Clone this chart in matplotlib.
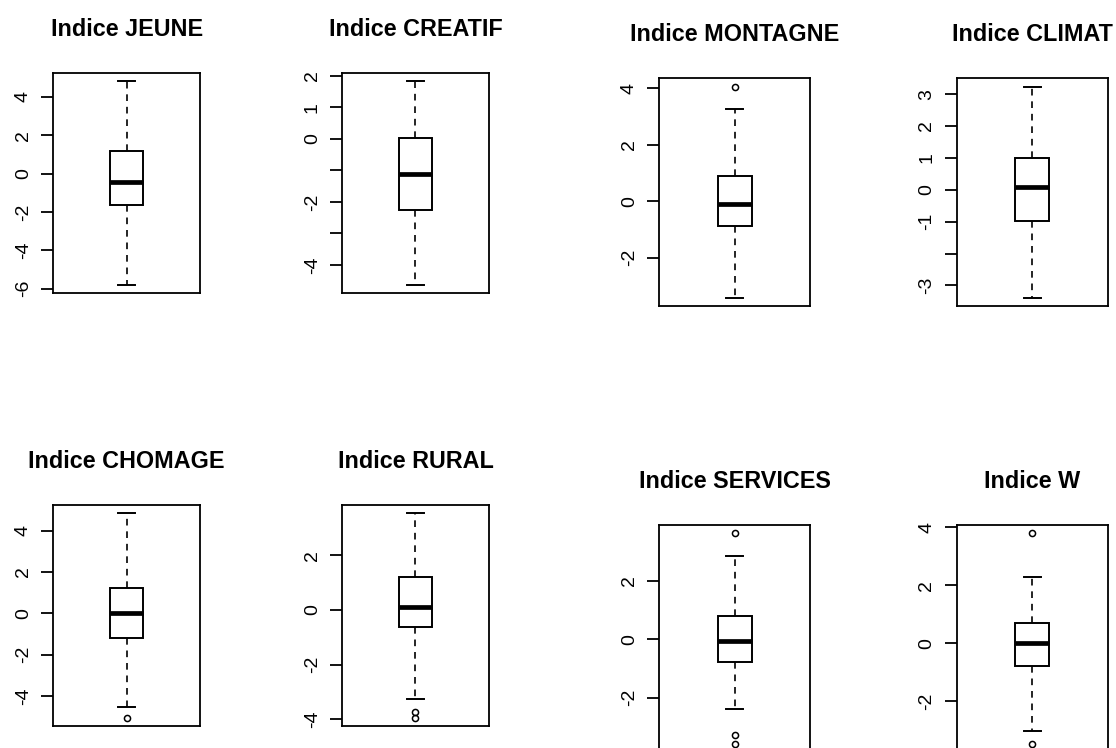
import matplotlib
matplotlib.use("Agg")
import matplotlib.pyplot as plt

plt.rcParams['font.family'] = ['Liberation Sans', 'DejaVu Sans']

# ---- data ----
titles = ["Indice JEUNE", "Indice CREATIF", "Indice MONTAGNE", "Indice CLIMAT",
          "Indice CHOMAGE", "Indice RURAL", "Indice SERVICES", "Indice W"]
medians = [-0.45, -1.10, -0.09, 0.10, 0.00, 0.12, -0.05, 0.00]
q1 = [-1.66, -2.27, -0.88, -0.97, -1.17, -0.63, -0.80, -0.77]
q3 = [1.18, 0.04, 0.90, 0.98, 1.24, 1.21, 0.78, 0.71]
whisker_low = [-5.82, -4.64, -3.41, -3.38, -4.52, -3.25, -2.38, -3.01]
whisker_high = [4.80, 1.82, 3.26, 3.23, 4.83, 3.53, 2.86, 2.30]
outliers = [[], [], [4.06], [], [-5.07], [-3.72, -3.96],
            [3.63, -3.28, -3.59], [3.80, -3.47]]
ytick_values = [[-6, -4, -2, 0, 2, 4],
                [-4, -3, -2, -1, 0, 1, 2],
                [-2, 0, 2, 4],
                [-3, -2, -1, 0, 1, 2, 3],
                [-4, -2, 0, 2, 4],
                [-4, -2, 0, 2],
                [-2, 0, 2],
                [-2, 0, 2, 4]]
ytick_labels = [["-6", "-4", "-2", "0", "2", "4"],
                ["-4", "", "-2", "", "0", "1", "2"],
                ["-2", "0", "2", "4"],
                ["-3", "", "-1", "0", "1", "2", "3"],
                ["-4", "-2", "0", "2", "4"],
                ["-4", "-2", "0", "2"],
                ["-2", "0", "2"],
                ["-2", "0", "2", "4"]]

# ---- layout (pixel frames: left, top, right, bottom) ----
W, H = 1116, 748
frames = [(53.3, 73.3, 200.0, 293.3), (342.3, 73.3, 488.7, 293.3),
          (659.3, 78.3, 810.0, 306.0), (957.0, 78.3, 1107.7, 306.0),
          (53.3, 505.3, 200.0, 726.3), (342.3, 505.3, 488.7, 726.3),
          (659.3, 524.7, 810.0, 752.4), (957.0, 524.7, 1107.7, 752.4)]

fig = plt.figure(figsize=(W / 100, H / 100), dpi=100)
fig.patch.set_facecolor('white')

for i in range(8):
    l, t, r, b = frames[i]
    ax = fig.add_axes([l / W, 1 - b / H, (r - l) / W, (b - t) / H])
    stats = [dict(med=medians[i], q1=q1[i], q3=q3[i],
                  whislo=whisker_low[i], whishi=whisker_high[i],
                  fliers=outliers[i], label="")]
    ax.bxp(stats, positions=[1], widths=0.227, capwidths=0.114,
           patch_artist=True, manage_ticks=False,
           boxprops=dict(facecolor='white', edgecolor='black', linewidth=1.4),
           whiskerprops=dict(color='black', linewidth=1.2, linestyle=(0, (4, 3.5))),
           capprops=dict(color='black', linewidth=1.4),
           medianprops=dict(color='black', linewidth=3.4, solid_capstyle='butt'),
           flierprops=dict(marker='o', markerfacecolor='none', markeredgecolor='black',
                           markersize=4.4, markeredgewidth=1.1))
    allv = [whisker_low[i], whisker_high[i]] + list(outliers[i])
    lo, hi = min(allv), max(allv)
    rng = hi - lo
    ax.set_ylim(lo - 0.04 * rng, hi + 0.04 * rng)
    ax.set_xlim(0.5, 1.5)
    ax.set_xticks([])
    ax.set_yticks(ytick_values[i])
    ax.set_yticklabels(ytick_labels[i], rotation=90, va='center')
    ax.tick_params(axis='y', length=8.5, width=1.3, pad=7, labelsize=14,
                   direction='out', colors='black')
    for s in ax.spines.values():
        s.set_linewidth(1.3)
        s.set_color('black')
    fig.text(((l + r) / 2) / W, 1 - (t - 37) / H, titles[i], ha='center',
             va='baseline', fontsize=16.8, fontweight='bold', color='black')

fig.savefig("out.png", dpi=100, facecolor='white')
